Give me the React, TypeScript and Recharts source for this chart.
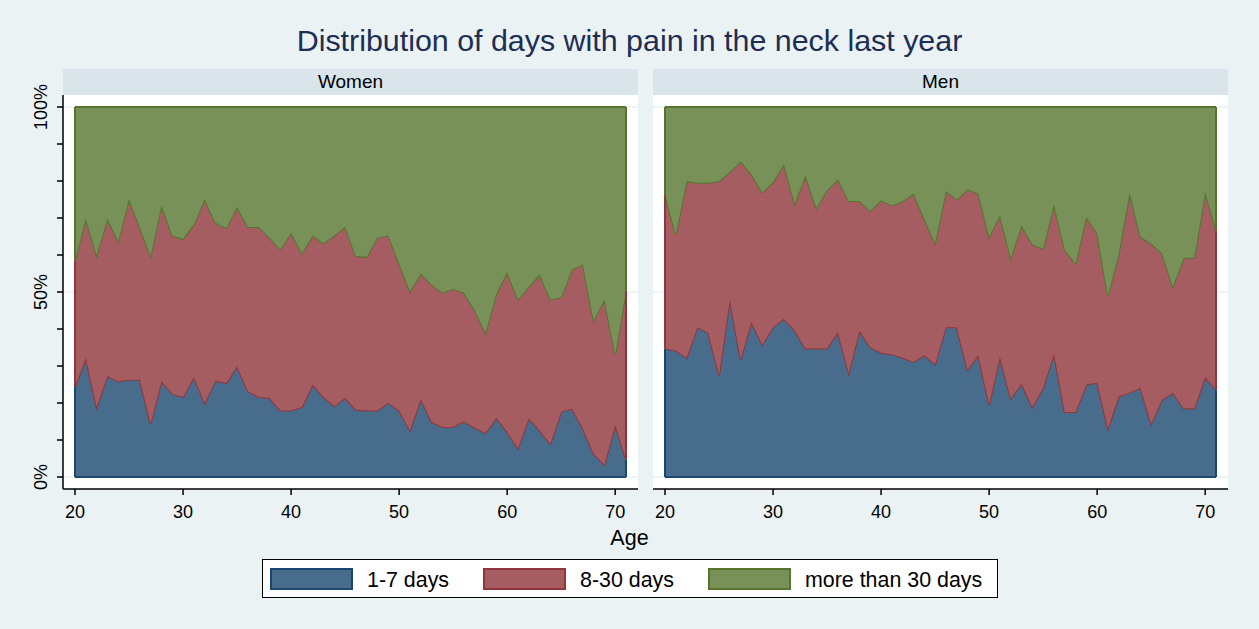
import { AreaChart, Area, XAxis, YAxis, CartesianGrid, ReferenceLine } from 'recharts';

const ages = Array.from({ length: 52 }, (_, i) => 20 + i);

// share of respondents (%) by age
const womenShort = [
    24.3, 32.2, 18.9, 27.3, 25.9, 26.3, 26.3, 14.4, 25.9, 22.5,
    21.6, 27.0, 20.0, 26.1, 25.4, 29.9, 23.2, 21.6, 21.4, 18.0,
    18.0, 18.9, 25.0, 21.6, 19.1, 21.4, 18.2, 18.0, 18.0, 20.1,
    18.0, 12.6, 21.0, 14.9, 13.5, 13.5, 15.1, 13.3, 11.9, 16.0,
    12.2, 7.7, 15.9, 12.6, 9.0, 17.6, 18.5, 13.1, 6.3, 3.3,
    14.0, 4.7
];
const womenMid = [
    34.3, 37.6, 41.0, 42.5, 37.8, 48.8, 41.3, 45.3, 47.6, 42.8,
    42.7, 41.3, 55.0, 42.6, 41.9, 43.1, 44.4, 46.0, 43.3, 43.5,
    48.0, 41.6, 40.3, 41.6, 46.2, 46.2, 41.5, 41.5, 46.7, 45.2,
    39.7, 37.6, 34.0, 37.1, 36.3, 37.4, 34.7, 31.7, 27.1, 33.5,
    43.2, 40.3, 35.5, 42.2, 39.0, 31.0, 37.6, 44.3, 36.0, 44.7,
    19.2, 45.5
];
const womenLong = [
    41.4, 30.2, 40.1, 30.2, 36.3, 24.9, 32.4, 40.3, 26.5, 34.7,
    35.7, 31.7, 25.0, 31.3, 32.7, 27.0, 32.4, 32.4, 35.3, 38.5,
    34.0, 39.5, 34.7, 36.8, 34.7, 32.4, 40.3, 40.5, 35.3, 34.7,
    42.3, 49.8, 45.0, 48.0, 50.2, 49.1, 50.2, 55.0, 61.0, 50.5,
    44.6, 52.0, 48.6, 45.2, 52.0, 51.4, 43.9, 42.6, 57.7, 52.0,
    66.8, 49.8
];

const menShort = [
    34.7, 34.2, 32.2, 40.5, 39.0, 27.5, 48.0, 31.8, 41.9, 35.8,
    40.5, 42.8, 39.6, 34.7, 34.7, 34.7, 39.2, 28.1, 39.5, 35.1,
    33.6, 33.2, 32.2, 31.1, 32.9, 30.5, 40.5, 40.5, 29.0, 32.9,
    19.6, 32.4, 21.2, 25.2, 18.9, 24.1, 33.3, 17.6, 17.6, 25.0,
    25.5, 13.1, 21.8, 22.8, 24.1, 14.4, 20.9, 22.7, 18.6, 18.6,
    27.0, 23.6
];
const menMid = [
    41.7, 31.3, 47.8, 39.0, 40.5, 52.5, 34.4, 53.5, 39.9, 41.1,
    39.2, 41.7, 34.3, 46.8, 38.0, 42.8, 41.3, 46.5, 35.1, 36.8,
    41.2, 40.2, 42.3, 45.5, 36.9, 32.7, 36.8, 34.5, 48.7, 43.7,
    45.3, 38.3, 38.0, 42.8, 44.0, 37.6, 40.4, 43.8, 40.1, 45.3,
    40.3, 35.8, 38.6, 54.0, 40.8, 48.7, 39.6, 28.7, 40.6, 40.7,
    50.0, 43.1
];
const menLong = [
    23.6, 34.5, 20.0, 20.5, 20.5, 20.0, 17.6, 14.7, 18.2, 23.1,
    20.3, 15.5, 26.1, 18.5, 27.3, 22.5, 19.5, 25.4, 25.4, 28.1,
    25.2, 26.6, 25.5, 23.4, 30.2, 36.8, 22.7, 25.0, 22.3, 23.4,
    35.1, 29.3, 40.8, 32.0, 37.1, 38.3, 26.3, 38.6, 42.3, 29.7,
    34.2, 51.1, 39.6, 23.2, 35.1, 36.9, 39.5, 48.6, 40.8, 40.7,
    23.0, 33.3
];

const xTicks = [20, 30, 40, 50, 60, 70];
const yTicks = [0, 10, 20, 30, 40, 50, 60, 70, 80, 90, 100];
const yLabels = [0, 50, 100];
const gridValues = [0, 50, 100];

const seriesNames = ['1-7 days', '8-30 days', 'more than 30 days'];

const NAVY = '#1a476f';
const MAROON = '#90353b';
const FOREST = '#55752f';
const NAVY_FILL = '#486c8c';
const MAROON_FILL = '#a65d62';
const FOREST_FILL = '#779159';
const FONT = '"Liberation Sans", Arial, sans-serif';

const buildRows = (s: number[], m: number[], l: number[]) =>
    ages.map((age, i) => ({ age, short: s[i], mid: m[i], long: l[i] }));

const womenRows = buildRows(womenShort, womenMid, womenLong);
const menRows = buildRows(menShort, menMid, menLong);

function YTick(props: any) {
    const { x, y, payload } = props;
    if (!yLabels.includes(payload.value)) return <g />;
    return (
        <text
            x={x}
            y={y}
            transform={`rotate(-90 ${x} ${y})`}
            textAnchor="middle"
            fontSize={18}
            fontFamily={FONT}
            fill="#000"
        >
            {payload.value}%
        </text>
    );
}

// outline pieces on the left and right edges of each band
function edgeLines(rows: any[]) {
    const out: any[] = [];
    [rows[0], rows[rows.length - 1]].forEach((r, k) => {
        const a = r.short;
        const b = r.short + r.mid;
        out.push(<ReferenceLine key={`e${k}a`} segment={[{ x: r.age, y: 0 }, { x: r.age, y: a }]} stroke={NAVY} strokeWidth={2} />);
        out.push(<ReferenceLine key={`e${k}b`} segment={[{ x: r.age, y: a }, { x: r.age, y: b }]} stroke={MAROON} strokeWidth={2} />);
        out.push(<ReferenceLine key={`e${k}c`} segment={[{ x: r.age, y: b }, { x: r.age, y: 100 }]} stroke={FOREST} strokeWidth={2} />);
    });
    return out;
}

function Panel({ rows, left, width, showY }: { rows: any[]; left: number; width: number; showY: boolean }) {
    return (
        <div style={{ position: 'absolute', left, top: 65 }}>
            <AreaChart width={width} height={460} data={rows} margin={{ top: 30, right: 12, bottom: 6, left: 13 }}>
                <CartesianGrid vertical={false} horizontalValues={gridValues} stroke="#eaf2f3" strokeWidth={1.5} fill="#ffffff" />
                <XAxis
                    dataKey="age"
                    type="number"
                    domain={[20, 71]}
                    ticks={xTicks}
                    interval={0}
                    padding={{ left: 12, right: 12 }}
                    height={30}
                    tickSize={6}
                    tickMargin={10}
                    axisLine={{ stroke: '#000', strokeWidth: 1.5 }}
                    tickLine={{ stroke: '#000', strokeWidth: 1.5 }}
                    tick={{ fontSize: 18, fill: '#000', fontFamily: FONT }}
                />
                <YAxis
                    type="number"
                    domain={[0, 100]}
                    ticks={yTicks}
                    interval={0}
                    padding={{ top: 12, bottom: 12 }}
                    width={50}
                    hide={!showY}
                    tickSize={6}
                    tickMargin={10}
                    axisLine={{ stroke: '#000', strokeWidth: 1.5 }}
                    tickLine={{ stroke: '#000', strokeWidth: 1.5 }}
                    tick={<YTick />}
                />
                <Area type="linear" dataKey="short" stackId="1" fill={NAVY_FILL} fillOpacity={1} stroke={MAROON} strokeWidth={2} dot={false} activeDot={false} isAnimationActive={false} />
                <Area type="linear" dataKey="mid" stackId="1" fill={MAROON_FILL} fillOpacity={1} stroke={FOREST} strokeWidth={2} dot={false} activeDot={false} isAnimationActive={false} />
                <Area type="linear" dataKey="long" stackId="1" fill={FOREST_FILL} fillOpacity={1} stroke={FOREST} strokeWidth={2} dot={false} activeDot={false} isAnimationActive={false} />
                <ReferenceLine segment={[{ x: 20, y: 0 }, { x: 71, y: 0 }]} stroke={NAVY} strokeWidth={2} />
                {edgeLines(rows)}
            </AreaChart>
        </div>
    );
}

const strip = (left: number, label: string) => (
    <div
        style={{
            position: 'absolute',
            left,
            top: 69,
            width: 575,
            height: 26,
            background: '#d9e5ea',
            display: 'flex',
            alignItems: 'center',
            justifyContent: 'center',
            fontSize: 19,
            color: '#000',
        }}
    >
        {label}
    </div>
);

export default function App() {
    const swatches = [
        { fill: NAVY_FILL, stroke: NAVY },
        { fill: MAROON_FILL, stroke: MAROON },
        { fill: FOREST_FILL, stroke: FOREST },
    ];
    return (
        <div
            style={{
                position: 'absolute',
                left: 0,
                top: 0,
                width: 1259,
                height: 629,
                background: '#eaf2f3',
                fontFamily: FONT,
                overflow: 'hidden',
            }}
        >
            <div
                style={{
                    position: 'absolute',
                    left: 0,
                    top: 25,
                    width: 1259,
                    textAlign: 'center',
                    fontSize: 30.4,
                    lineHeight: '30px',
                    color: '#1e2d53',
                }}
            >
                Distribution of days with pain in the neck last year
            </div>
            {strip(63, 'Women')}
            {strip(653, 'Men')}
            <Panel rows={womenRows} left={0} width={650} showY={true} />
            <Panel rows={menRows} left={640} width={600} showY={false} />
            <div
                style={{
                    position: 'absolute',
                    left: 0,
                    top: 528,
                    width: 1259,
                    textAlign: 'center',
                    fontSize: 21.5,
                    lineHeight: '21px',
                    color: '#000',
                }}
            >
                Age
            </div>
            <div
                style={{
                    position: 'absolute',
                    left: 262,
                    top: 559,
                    width: 727,
                    height: 37,
                    background: '#fff',
                    border: '1.5px solid #000',
                    display: 'flex',
                    alignItems: 'center',
                    paddingLeft: 7,
                    boxSizing: 'content-box',
                }}
            >
                {seriesNames.map((name, i) => (
                    <div key={name} style={{ display: 'flex', alignItems: 'center', marginRight: 34, flexShrink: 0 }}>
                        <div
                            style={{
                                width: 79,
                                height: 18,
                                background: swatches[i].fill,
                                border: `2px solid ${swatches[i].stroke}`,
                                marginRight: 14,
                                flexShrink: 0,
                            }}
                        />
                        <span style={{ fontSize: 21.4, lineHeight: '21px', color: '#000', paddingTop: 3, whiteSpace: 'nowrap' }}>{name}</span>
                    </div>
                ))}
            </div>
        </div>
    );
}
